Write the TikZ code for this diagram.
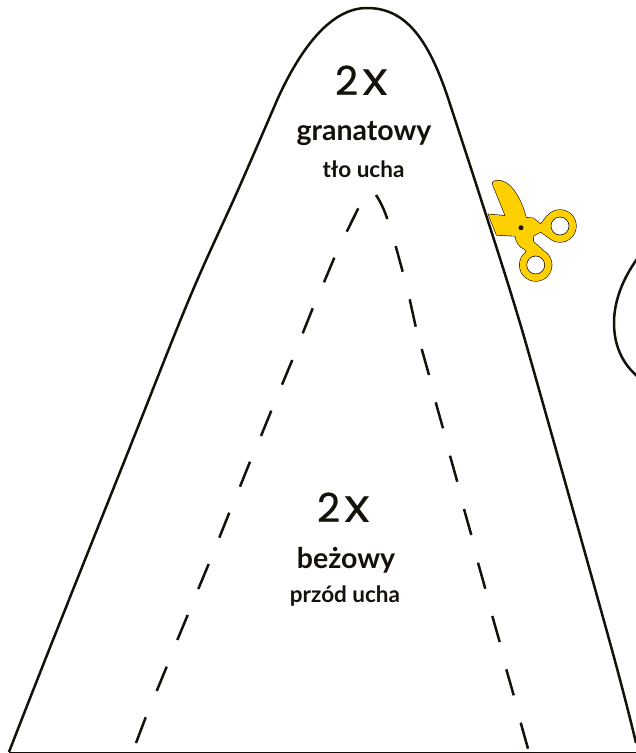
\documentclass[tikz,border=0pt]{standalone}
\usepackage{fontspec}
\setmainfont{Lato}
\newfontfamily\numfont[FakeBold=0.6]{Poppins}
\newfontfamily\exfont[FakeStretch=1.15]{Poppins}
\definecolor{ink}{HTML}{14100A}
\definecolor{scis}{HTML}{FFD000}
\newcommand{\twox}{2\kern4pt{\exfont\fontsize{47}{47}\selectfont x}}
\tikzset{
  edge/.style={draw=ink,line width=2.5pt,line join=round},
  cutdash/.style={draw=ink,line width=2.5pt},
  lbl/.style={inner sep=0pt,anchor=base,text=ink},
  big/.style={lbl,font=\numfont\fontsize{40}{40}\selectfont},
  mid/.style={lbl,font=\bfseries\fontsize{28.5}{28.5}\selectfont},
  small/.style={lbl,font=\bfseries\fontsize{22.5}{22.5}\selectfont},
}
\begin{document}
\begin{tikzpicture}[x=1pt,y=-1pt]
\useasboundingbox (0,0) rectangle (636,753);
% scissors: stroked union, then filled, then finger holes
\def\scisparts{
  (493.3,181.7) .. controls (497,179) and (505,181) .. (510,186) .. controls (517,193) and (523,205) .. (526,218) -- (527,222) -- (508,222) -- (495,190) .. controls (493,186) and (492,183) .. (493.3,181.7) -- cycle
  (488.3,214.3) -- (533.3,218.3) -- (540.7,224.3) -- (547,216) -- (552,240) -- (540.7,231.7) -- (531.7,236.7) -- (496.7,235) -- cycle
  (515,235) -- (533,235) -- (533.3,241.7) -- (548,255) -- (530,258) -- (525,249.3) .. controls (519,247) and (516,242) .. (515,235) -- cycle
  (560,226) circle[radius=16]
  (535.7,265) circle[radius=16]
}
\draw[draw=ink,line width=1.2pt,line join=round] \scisparts;
\fill[scis] \scisparts;
\draw[draw=ink,line width=0.6pt,fill=white] (560,226) circle[radius=9] (535.7,265) circle[radius=9];
\fill[ink] (521,227.7) circle[radius=2.5];
% main outline
\draw[edge] plot[smooth,tension=0.6] coordinates {(9,752) (49,650) (130,447) (190,297) (238,190) (278,98)}
  .. controls (300,50) and (330,8) .. (367,8)
  .. controls (405,8) and (428,38) .. (448,98)
  -- plot[smooth,tension=0.6] coordinates {(448,98) (478,190) (513,300) (540,393) (612,650) (636,743)};
\draw[edge] (9,752.8) -- (636,752.8);
% second piece on the right
\draw[edge] (637,259) .. controls (622,280) and (614,302) .. (614,323) .. controls (614,345) and (622,363) .. (637,376);
% dashed inner outline
\foreach \a/\b/\c/\d in {358.3/208.3/346.7/231.7,334.3/257.7/324/282.3,312.7/308.3/302.7/333.3,292.3/360/282/384.7,271.3/410.7/261/436,250/461.7/240/486.7,229.3/512.7/219.3/537.7,208.7/564/198.3/589,187.7/615/177.3/640,166.7/666.7/156.7/691,145.7/717.3/136/743,
395.7/246/402.7/271.7,409.7/299.3/415.7/326.7,421.7/349/429/375,435.7/402.3/443/428.3,450/455.7/457.3/481.7,464/509/471.3/535,478/562.7/485.3/588.7,492.3/616/499.7/642,506.3/669.3/513.7/695.3,520.7/722.7/528/748.7}
  \draw[cutdash] (\a,\b) -- (\c,\d);
\draw[cutdash] (376,195) .. controls (380,201) and (384,209) .. (387.3,219);
% labels
\node[big] (n1) at (361.5,95) {\twox};
\node[mid] (g) at (364,140) {granatowy};
\node[small] (t) at (363.5,177) {tło ucha};
\node[big] (n2) at (343.5,522) {\twox};
\node[mid] (b) at (346,568) {beżowy};
\node[small] (p) at (345,602) {przód ucha};
\end{tikzpicture}
\end{document}
